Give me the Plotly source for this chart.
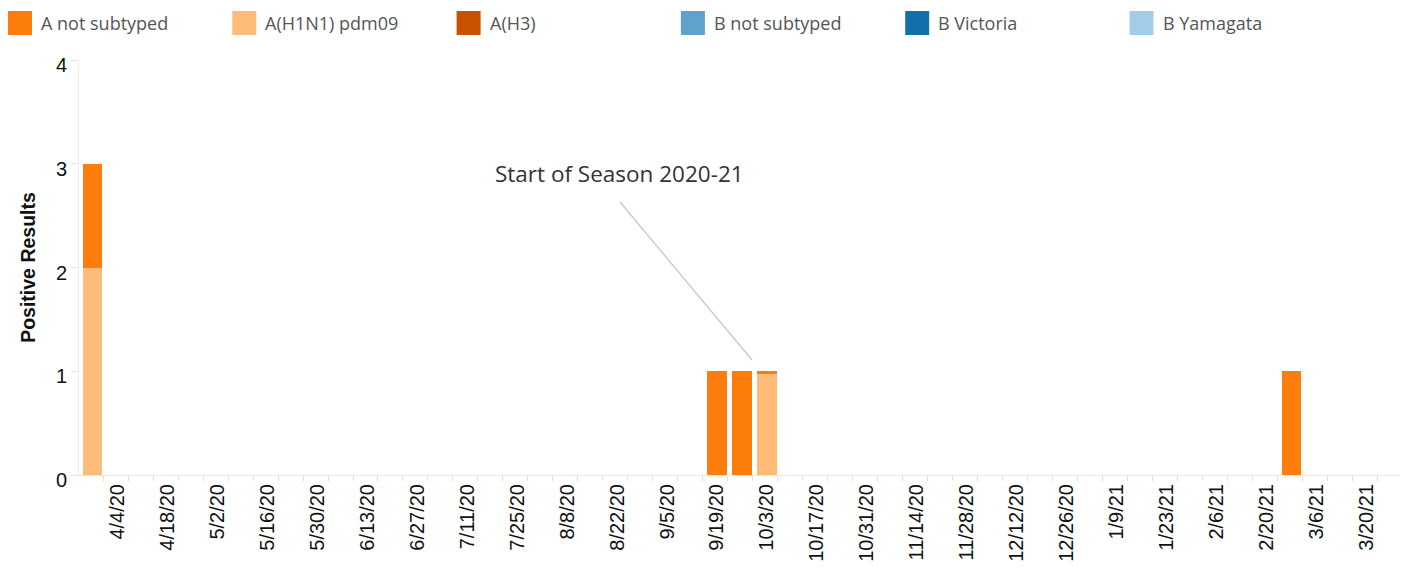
import plotly.graph_objects as go
import pandas as pd

# ---- data ----
week_dates = pd.date_range("2020-03-28", "2021-03-27", freq="7D")  # 53 weekly categories

a_not_subtyped = [
    1, 0, 0, 0, 0, 0, 0, 0, 0, 0,
    0, 0, 0, 0, 0, 0, 0, 0, 0, 0,
    0, 0, 0, 0, 0, 1, 1, 0.025, 0, 0,
    0, 0, 0, 0, 0, 0, 0, 0, 0, 0,
    0, 0, 0, 0, 0, 0, 0, 0, 1, 0,
    0, 0, 0]
a_h1n1 = [
    2, 0, 0, 0, 0, 0, 0, 0, 0, 0,
    0, 0, 0, 0, 0, 0, 0, 0, 0, 0,
    0, 0, 0, 0, 0, 0, 0, 0.975, 0, 0,
    0, 0, 0, 0, 0, 0, 0, 0, 0, 0,
    0, 0, 0, 0, 0, 0, 0, 0, 0, 0,
    0, 0, 0]
a_h3 = [0] * 53
b_not_subtyped = [0] * 53
b_victoria = [0] * 53
b_yamagata = [0] * 53

series_names = ["A not subtyped", "A(H1N1) pdm09", "A(H3)",
                "B not subtyped", "B Victoria", "B Yamagata"]
series_colors = ["#FC7D0B", "#FFBC79", "#C85200", "#5FA2CE", "#1170AA", "#A3CCE9"]

tick_dates = ["2020-04-04", "2020-04-18", "2020-05-02", "2020-05-16", "2020-05-30",
              "2020-06-13", "2020-06-27", "2020-07-11", "2020-07-25", "2020-08-08",
              "2020-08-22", "2020-09-05", "2020-09-19", "2020-10-03", "2020-10-17",
              "2020-10-31", "2020-11-14", "2020-11-28", "2020-12-12", "2020-12-26",
              "2021-01-09", "2021-01-23", "2021-02-06", "2021-02-20", "2021-03-06",
              "2021-03-20"]
tick_labels = ["4/4/20", "4/18/20", "5/2/20", "5/16/20", "5/30/20", "6/13/20",
               "6/27/20", "7/11/20", "7/25/20", "8/8/20", "8/22/20", "9/5/20",
               "9/19/20", "10/3/20", "10/17/20", "10/31/20", "11/14/20", "11/28/20",
               "12/12/20", "12/26/20", "1/9/21", "1/23/21", "2/6/21", "2/20/21",
               "3/6/21", "3/20/21"]

# ---- layout geometry (page pixels; the page body adds an 8px offset) ----
OFF = 8
W, H = 1410 - OFF, 580 - OFF
L, R, T, B = 79 - OFF, 1400 - OFF, 60 - OFF, 475 - OFF
def px_x(px):  # px in screen coords
    return (px - OFF - L) / (R - L)
def px_y(py):
    return (B - (py - OFF)) / (B - T)

BAR_W_MS = 5.45 * 86400000

fig = go.Figure()
stack = [("A(H1N1) pdm09", a_h1n1), ("A not subtyped", a_not_subtyped), ("A(H3)", a_h3),
         ("B not subtyped", b_not_subtyped), ("B Victoria", b_victoria),
         ("B Yamagata", b_yamagata)]
for name, vals in stack:
    fig.add_trace(go.Bar(
        x=week_dates, y=vals, name=name, width=BAR_W_MS,
        marker=dict(color=series_colors[series_names.index(name)], line=dict(width=0)),
        showlegend=False,
    ))

# manual legend
shapes = []
annotations = []
for i, (name, col) in enumerate(zip(series_names, series_colors)):
    x0 = 8 + i * 224.3
    shapes.append(dict(type="rect", xref="paper", yref="paper",
                       x0=px_x(x0), x1=px_x(x0 + 24), y0=px_y(35), y1=px_y(11),
                       fillcolor=col, line=dict(width=0), layer="above"))
    annotations.append(dict(xref="paper", yref="paper", x=px_x(x0 + 31), y=px_y(23),
                            text=name, showarrow=False, xanchor="left", yanchor="middle",
                            font=dict(family="Open Sans", size=18, color="#555555")))

# season annotation: text + leader line
annotations.append(dict(
    xref="paper", yref="paper", x=px_x(619), y=px_y(173),
    showarrow=False, xanchor="center", yanchor="middle",
    text="Start of Season 2020-21",
    font=dict(family="Open Sans", size=22.5, color="#333333"),
))
shapes.append(dict(type="line", xref="paper", yref="paper",
                   x0=px_x(620), y0=px_y(202), x1=px_x(752), y1=px_y(360),
                   line=dict(color="#C8C8C8", width=1.3)))

fig.update_layout(
    width=W, height=H,
    margin=dict(l=L, r=W - R, t=T, b=H - B),
    barmode="stack",
    plot_bgcolor="white", paper_bgcolor="white",
    shapes=shapes, annotations=annotations,
    xaxis=dict(
        type="date",
        range=["2020-03-24 05:00", "2021-03-29 10:00"],
        tickmode="array", tickvals=tick_dates, ticktext=tick_labels,
        tickangle=-90, ticks="", ticklen=0,
        minor=dict(ticks="outside", tick0="2020-03-31", dtick=7 * 86400000,
                   ticklen=5, tickcolor="#E0E0E0", showgrid=False),
        tickfont=dict(family="Liberation Sans", size=20, color="#111111"),
        showgrid=False, zeroline=False,
        showline=True, linecolor="#E6E6E6", linewidth=1,
    ),
    yaxis=dict(
        range=[0, 4], tickvals=[0, 1, 2, 3, 4],
        ticks="outside", ticklen=7, tickcolor="#E6E6E6",
        ticklabelshift=5,
        tickfont=dict(family="Liberation Sans", size=20, color="#111111"),
        showgrid=False, zeroline=False,
        showline=True, linecolor="#EEEEEE", linewidth=1,
        title=dict(text="Positive Results", standoff=15,
                   font=dict(family="Liberation Sans", size=19.5, color="#111111",
                             weight="bold")),
    ),
)

fig.write_html("out.html")
